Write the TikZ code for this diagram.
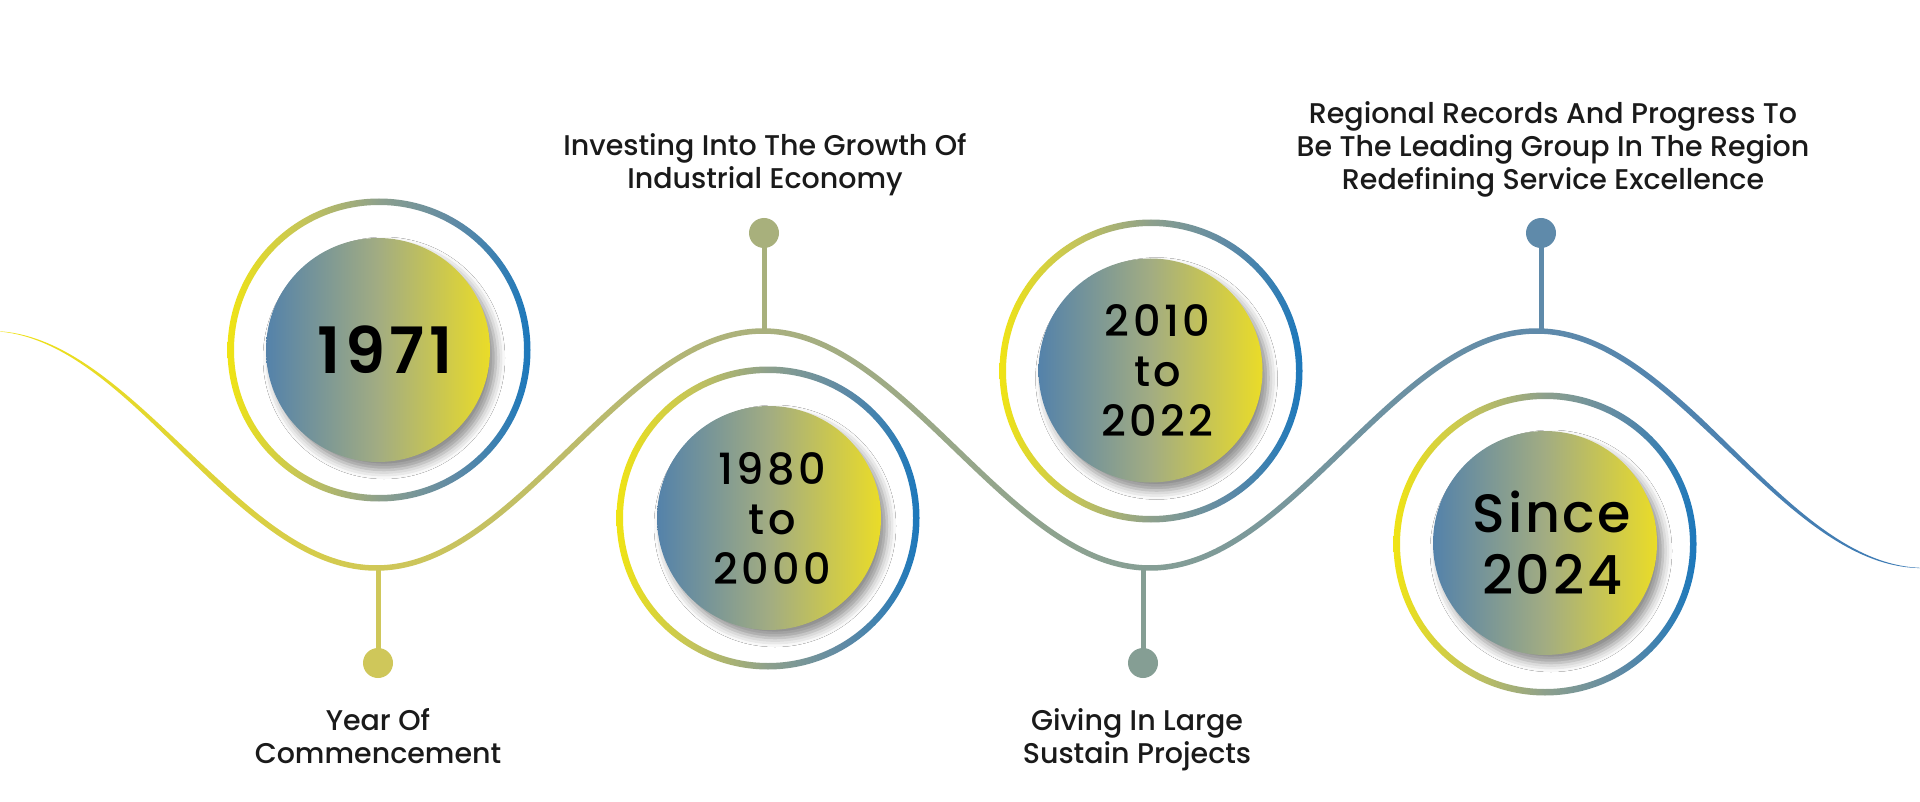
\documentclass[tikz,border=0pt]{standalone}
\usepackage{fontspec}
\setmainfont{Poppins}
\newfontfamily\pmed{Poppins Medium}
\newfontfamily\pmedsp[LetterSpace=8]{Poppins Medium}
\newfontfamily\pmedsince[LetterSpace=5]{Poppins Medium}
\newfontfamily\psemi[LetterSpace=7]{Poppins SemiBold}
\usetikzlibrary{shadows.blur}
\definecolor{dotA}{RGB}{207,199,90}
\definecolor{dotB}{RGB}{168,176,124}
\definecolor{dotC}{RGB}{133,158,148}
\definecolor{dotD}{RGB}{95,138,170}
\definecolor{labeltext}{RGB}{26,26,26}
\pgfdeclarehorizontalshading{wavesh}{100bp}{rgb(0bp)=(0.941,0.886,0.078); rgb(25bp)=(0.941,0.886,0.078); rgb(35bp)=(0.812,0.780,0.345); rgb(45bp)=(0.663,0.690,0.494); rgb(55bp)=(0.522,0.620,0.584); rgb(65bp)=(0.373,0.541,0.667); rgb(75bp)=(0.227,0.478,0.714); rgb(100bp)=(0.227,0.478,0.714)}
\pgfdeclarehorizontalshading{ringsh}{100bp}{rgb(0bp)=(0.941,0.894,0.078); rgb(25bp)=(0.941,0.894,0.078); rgb(37.5bp)=(0.769,0.769,0.353); rgb(50bp)=(0.553,0.627,0.549); rgb(62.5bp)=(0.373,0.541,0.647); rgb(75bp)=(0.110,0.471,0.737); rgb(100bp)=(0.110,0.471,0.737)}
\pgfdeclarehorizontalshading{disksh}{100bp}{rgb(0bp)=(0.329,0.510,0.667); rgb(25bp)=(0.329,0.510,0.667); rgb(50bp)=(0.635,0.675,0.510); rgb(75bp)=(0.918,0.863,0.157); rgb(100bp)=(0.918,0.863,0.157)}
\tikzset{
  declare function={
    wavey(\t)=449.5-118.5*cos((\t+10.5)*0.465357);
    wavew(\t)=2.75*min(1,(\t+12)/230,(1932-\t)/230)*sqrt(1+(0.9625*sin((\t+10.5)*0.465357))^2);
  },
  disk/.style={circle, inner sep=0pt, minimum size=224pt, shade, shading=disksh,
    blur shadow={shadow xshift=6pt, shadow yshift=-8pt, shadow blur radius=9pt, shadow opacity=45}},
  yeartext/.style={align=center, text=black, inner sep=0pt},
  yearbig/.style={yeartext, font=\psemi\fontsize{64}{70}\selectfont},
  yearmid/.style={yeartext, font=\pmedsp\fontsize{43}{50}\selectfont},
  yearsince/.style={yeartext, font=\pmedsince\fontsize{54}{62}\selectfont},
  ringpath/.style={shade, shading=ringsh, even odd rule},
  dotnode/.style={circle, inner sep=0pt, minimum size=30pt},
  stem/.style={line width=5pt},
  label/.style={font=\pmed\fontsize{28.5}{33}\selectfont, align=center, text=labeltext, anchor=base}
}
\begin{document}
\begin{tikzpicture}[x=1pt,y=-1pt]
\useasboundingbox (0,0) rectangle (1920,802);
\fill[white] (0,0) rectangle (1920,802);
% wave
\shade[shading=wavesh] plot[domain=0:1920, samples=480, variable=\t] (\t,{wavey(\t)-wavew(\t)})
  -- plot[domain=1920:0, samples=480, variable=\t] (\t,{wavey(\t)+wavew(\t)}) -- cycle;
% wave anchor points
\coordinate (w1) at (378,{wavey(378)});
\coordinate (w2) at (764,{wavey(764)});
\coordinate (w3) at (1143,{wavey(1143)});
\coordinate (w4) at (1541,{wavey(1541)});
% ring centres
\coordinate (c1) at (379,350);
\coordinate (c2) at (768,518);
\coordinate (c3) at (1151,371);
\coordinate (c4) at (1545,544);
\foreach \c in {c1,c2,c3,c4}{
  \path[ringpath] (\c) circle[radius=151.5] (\c) circle[radius=145];
}
% dots and stems
\node[dotnode, fill=dotA] (p1) at (378,663) {};
\node[dotnode, fill=dotB] (p2) at (764,233) {};
\node[dotnode, fill=dotC] (p3) at (1143,663) {};
\node[dotnode, fill=dotD] (p4) at (1541,233) {};
\draw[stem, dotA] (p1.center) -- (w1);
\draw[stem, dotB] (p2.center) -- (w2);
\draw[stem, dotC] (p3.center) -- (w3);
\draw[stem, dotD] (p4.center) -- (w4);
% disks
\node[disk] (d1) at (378,350) {};
\node[disk] (d2) at (769,518) {};
\node[disk] (d3) at (1150.5,370.5) {};
\node[disk] (d4) at (1545,543) {};
\node[yearbig] (t1) at ([xshift=7pt]d1.center) {1971};
\node[yearmid] (t2) at ([xshift=3pt]d2.center) {1980\\to\\2000};
\node[yearmid] (t3) at ([xshift=7pt]d3.center) {2010\\to\\2022};
\node[yearsince] (t4) at ([xshift=7pt]d4.center) {Since\\2024};
% labels (anchor = baseline of last line)
\node[label] (l1) at (378,763) {Year Of\\Commencement};
\node[label] (l2) at (765,189) {Investing Into The Growth Of\\Industrial Economy};
\node[label] (l3) at (1137,763) {Giving In Large\\Sustain Projects};
\node[label] (l4) at (1553,190) {Regional Records And Progress To\\Be The Leading Group In The Region\\Redefining Service Excellence};
\end{tikzpicture}
\end{document}
